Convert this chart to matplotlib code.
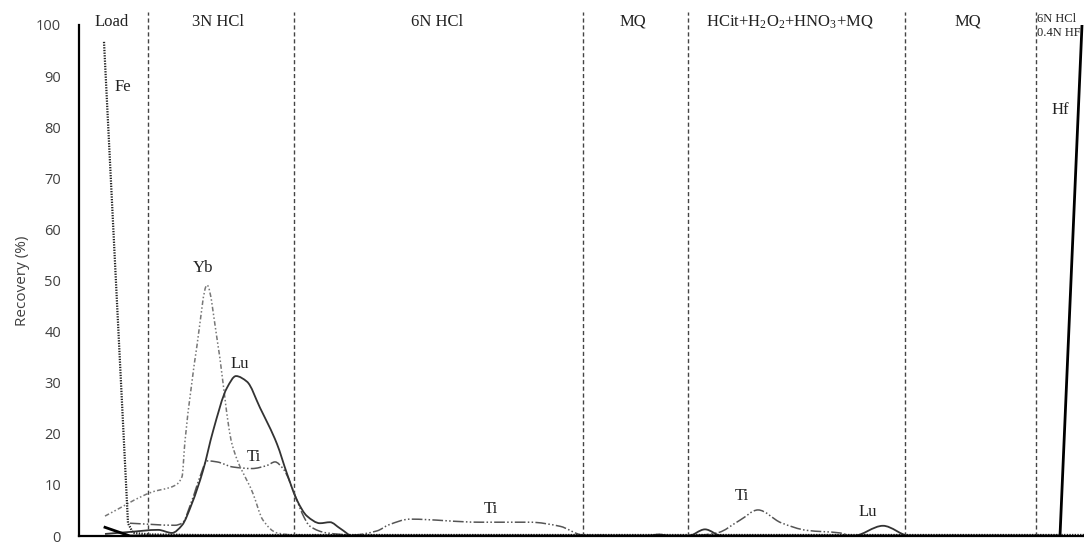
import matplotlib
matplotlib.use("Agg")
import matplotlib.pyplot as plt
from matplotlib.path import Path
from matplotlib.patches import PathPatch

plt.rcParams['mathtext.fontset'] = 'custom'
plt.rcParams['mathtext.rm'] = 'Liberation Serif'
plt.rcParams['mathtext.it'] = 'Liberation Serif:italic'

# Elution profiles: x = eluted volume (arbitrary units), y = recovery (%)
fe_x = [2.5, 4.9, 5.4, 7.1, 12.0, 20.0, 40.0, 70.0, 102.0]
fe_y = [96.7, 2.5, 0.6, 0.3, 0.2, 0.2, 0.2, 0.2, 0.2]

yb_x = [2.6, 7.3, 9.6, 10.3, 10.6, 11.8, 12.8, 13.9, 15.3, 17.4, 18.4, 19.8, 21.5, 30.0, 102.0]
yb_y = [3.9, 8.6, 9.9, 11.6, 18.6, 37.3, 49.1, 37.3, 18.0, 8.3, 3.1, 0.6, 0.2, 0.1, 0.1]

lu_x = [2.6, 5.1, 7.9, 9.3, 10.3, 11.3, 12.4, 13.4, 14.8, 15.7, 16.8, 18.1, 19.8,
        20.8, 21.8, 22.8, 24.1, 25.1, 26.1, 27.4, 56.8, 58.0, 59.1, 60.9, 62.6,
        64.3, 77.4, 80.4, 83.1, 102.0]
lu_y = [0.4, 0.8, 1.2, 0.6, 2.1, 6.4, 12.8, 20.5, 29.0, 31.3, 30.2, 25.1, 18.0,
        12.2, 7.0, 3.9, 2.5, 2.7, 1.5, 0.0, 0.0, 0.3, 0.0, 0.0, 1.3,
        0.0, 0.0, 2.0, 0.0, 0.0]

ti_x = [5.1, 9.6, 10.3, 11.3, 12.1, 12.8, 13.8, 15.4, 17.3, 18.8, 19.6, 20.4, 21.8,
        22.3, 23.1, 24.8, 27.4, 29.8, 31.0, 33.1, 40.1, 45.1, 48.1, 50.4, 60.9,
        63.8, 66.1, 67.9, 70.2, 72.8, 76.1, 77.4, 102.0]
ti_y = [2.5, 2.1, 2.5, 7.0, 11.6, 14.7, 14.5, 13.5, 13.2, 13.8, 14.5, 13.2, 7.0,
        4.5, 1.9, 0.6, 0.2, 1.0, 2.2, 3.3, 2.7, 2.7, 1.9, 0.2, 0.0,
        0.6, 3.1, 5.1, 2.6, 1.1, 0.6, 0.0, 0.0]

hf_x = [2.6, 5.1, 98.1, 100.3, 101.0]
hf_y = [1.7, 0.0, 0.0, 100.0, 130.0]

# Eluent boundaries and names
cuts = [6.9, 21.5, 50.4, 60.9, 82.6, 95.7]
eluents = ["Load", "3N HCl", "6N HCl", "MQ",
           "HCit+H$_2$O$_2$+HNO$_3$+MQ", "MQ"]
eluent_x = [3.3, 13.9, 35.8, 55.4, 71.1, 88.9]

# Element tags placed next to their peaks
tags = ["Fe", "Yb", "Lu", "Ti", "Ti", "Ti", "Lu", "Hf"]
tag_x = [4.4, 12.4, 16.1, 17.5, 41.2, 66.3, 78.9, 98.1]
tag_y = [87.8, 52.4, 33.7, 15.4, 5.2, 7.8, 4.7, 83.3]


def smooth_path(xs, ys):
    """Cubic Bezier path through the points, with shape-preserving slopes."""
    n = len(xs)
    h = [xs[i + 1] - xs[i] for i in range(n - 1)]
    d = [(ys[i + 1] - ys[i]) / h[i] for i in range(n - 1)]
    m = [0.0] * n
    m[0], m[-1] = d[0], d[-1]
    for i in range(1, n - 1):
        if d[i - 1] * d[i] <= 0:
            m[i] = 0.0
        else:
            w1 = 2 * h[i] + h[i - 1]
            w2 = h[i] + 2 * h[i - 1]
            m[i] = (w1 + w2) / (w1 / d[i - 1] + w2 / d[i])
    verts = [(xs[0], ys[0])]
    codes = [Path.MOVETO]
    for i in range(n - 1):
        dx = h[i] / 3
        verts += [(xs[i] + dx, ys[i] + m[i] * dx),
                  (xs[i + 1] - dx, ys[i + 1] - m[i + 1] * dx),
                  (xs[i + 1], ys[i + 1])]
        codes += [Path.CURVE4] * 3
    return Path(verts, codes)


def draw_smooth(ax, xs, ys, **kw):
    patch = PathPatch(smooth_path(xs, ys), fill=False, **kw)
    ax.add_patch(patch)
    return patch


W, H = 1084, 545
fig = plt.figure(figsize=(W / 100, H / 100), dpi=100)
ax = fig.add_axes([79 / W, 9 / H, 1020 / W, 511 / H])
ax.set_xlim(0, 102)
ax.set_ylim(0, 100)

serif = "Liberation Serif"

draw_smooth(ax, ti_x, ti_y, edgecolor="#555555", lw=1.1,
            linestyle=(0, (7, 1.5, 1, 1.5, 1, 1.5)))
draw_smooth(ax, yb_x, yb_y, edgecolor="#777777", lw=1.1,
            linestyle=(0, (3, 1.5, 1, 1.5, 1, 1.5)))
draw_smooth(ax, lu_x, lu_y, edgecolor="#333333", lw=1.3)
ax.plot(fe_x, fe_y, color="#222222", lw=1.6, dashes=(0.6, 0.6))
ax.plot(hf_x, hf_y, color="black", lw=2.0)

for c in cuts:
    ax.plot([c, c], [0, 102.5], color="#444444", lw=1.0, dashes=(3, 2),
            clip_on=False)

for name, x in zip(eluents, eluent_x):
    ax.text(x, 100.6, name, ha="center", va="center", fontsize=12,
            family=serif, color="#222222", clip_on=False)
ax.text(95.8, 101.2, "6N HCl", ha="left", va="center", fontsize=9,
        family=serif, color="#222222")
ax.text(95.8, 98.4, "0.4N HF", ha="left", va="center", fontsize=9,
        family=serif, color="#222222")

for t, x, y in zip(tags, tag_x, tag_y):
    ax.text(x, y, t, ha="center", va="center", fontsize=12, family=serif,
            color="#222222")

ax.set_yticks(range(0, 101, 10))
ax.set_xticks([])
ax.tick_params(axis="y", length=0, pad=13, labelsize=10.5,
               labelcolor="#404040")
for lab in ax.get_yticklabels():
    lab.set_family("Open Sans")
ax.set_ylabel("Recovery (%)", fontsize=11, family="Open Sans",
              color="#404040", labelpad=4)

ax.spines["top"].set_visible(False)
ax.spines["right"].set_visible(False)
ax.spines["left"].set_linewidth(1.6)
ax.spines["bottom"].set_linewidth(1.6)

fig.savefig("out.png", dpi=100)
